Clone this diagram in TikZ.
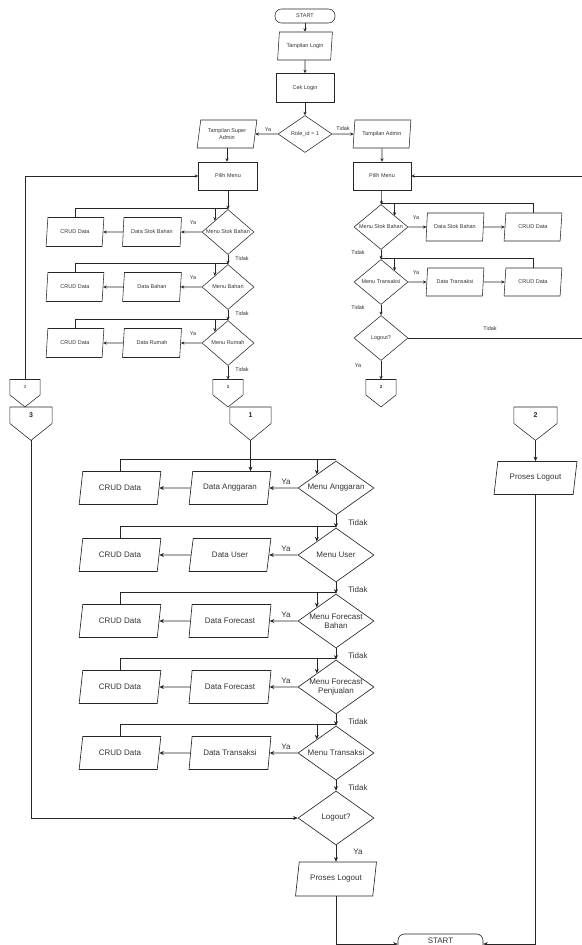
\documentclass[tikz,border=0pt]{standalone}
\usepackage{fontspec}
\setmainfont{Liberation Sans}
\usetikzlibrary{shapes.geometric,calc,arrows.meta}
\newcommand\fs{\fontsize{5.5}{6.6}\selectfont}
\newcommand\fb{\fontsize{8}{9.4}\selectfont}
\newcommand\offpage[7]{%
  \node[offbox, minimum width=#4, minimum height=#5, anchor=north] (#1) at (#2,#3) {#7};
  \draw[ln] (#1.north west) -- (#1.north east) -- (#1.south east) -- ($(#1.south)+(0,#6)$) coordinate (#1t) -- (#1.south west) -- cycle;}
\tikzset{
  ln/.style={draw=black!85, line width=0.55pt},
  arr/.style={ln, -{Stealth[length=3.5pt,width=3.2pt]}},
  arrb/.style={ln, line width=0.65pt, -{Stealth[length=4.5pt,width=4pt]}},
  base/.style={draw=black!85, line width=0.55pt, inner sep=0pt, text=black!80},
  para/.style 2 args={base, trapezium, trapezium left angle=76, trapezium right angle=104, trapezium stretches=true, minimum width=#1, minimum height=#2, font=\fs, align=center},
  parab/.style 2 args={base, line width=0.65pt, trapezium, trapezium left angle=70, trapezium right angle=110, trapezium stretches=true, minimum width=#1, minimum height=#2, font=\fb},
  proc/.style 2 args={base, rectangle, minimum width=#1, minimum height=#2, font=\fs},
  diab/.style={base, line width=0.65pt, diamond, minimum width=76, minimum height=54},
  term/.style 2 args={base, rectangle, rounded corners=6.5pt, minimum width=#1, minimum height=#2},
  offbox/.style={inner sep=0pt, text=black!85},
  lbl/.style={inner sep=0pt, font=\fs, text=black!80},
  lblb/.style={inner sep=0pt, font=\fb, text=black!80},
}
\begin{document}
\begin{tikzpicture}[x=1pt, y=-1pt]
\useasboundingbox (0,0) rectangle (581,945);
% ---------- top ----------
\node[term={60}{14}, font=\fs] (s1) at (305,16) {START};
\node[para={55}{28}] (tl) at (305,46) {Tampilan Login};
\node[proc={58}{29}] (cl) at (305,88) {Cek Login};
\node[base, diamond, minimum width=54, minimum height=37] (rl) at (305,134) {};
\node[lbl] (rlt) at (rl.center) {Role\_id = 1};
\node[para={60}{28}] (tsa) at (227,134) {Tampilan Super\\Admin};
\node[para={58}{28}] (ta) at (382,134) {Tampilan Admin};
\node[proc={59}{28}] (pmL) at (228,176) {Pilih Menu};
\node[proc={58}{28}] (pmR) at (382,176) {Pilih Menu};
\draw[arr] (s1) -- (tl);
\draw[arr] (tl) -- (cl);
\draw[arr] (cl) -- (rl);
\draw[arr] (rl) -- (tsa);
\draw[arr] (rl) -- (ta);
\node[lbl] (ya0) at (268,130) {Ya};
\node[lbl] (ti0) at (343,129) {Tidak};
\draw[arr] (tsa.south) -- (tsa.south |- pmL.north);
\draw[arr] (ta) -- (pmR);
% ---------- left column ----------
\foreach \nm/\yy/\dtxt/\dat in {a/232/{Menu Stok Bahan}/{Data Stok Bahan}, b/287/{Menu Bahan}/{Data Bahan}, c/343/{Menu Rumah}/{Data Rumah}}{
  \node[base, diamond, minimum width=52, minimum height=45] (dL\nm) at (228,\yy) {};
  \node[lbl] (dLt\nm) at (dL\nm.center) {\dtxt};
  \node[para={59}{29}] (tL\nm) at (152,\yy) {\dat};
  \node[para={58}{29}] (cL\nm) at (75,\yy) {CRUD Data};
  \draw[arr] (dL\nm) -- (tL\nm);
  \draw[arr] (tL\nm) -- (cL\nm);
  \draw[arr] (cL\nm.north) |- ($(dL\nm.north)+(0,-1)$) -| (dL\nm.north west);
  \node[lbl] (yL\nm) at (193,\yy-9) {Ya};
  \node[lbl] (nL\nm) at (242,\yy+27) {Tidak};
}
\draw[arr] (pmL) -- (dLa);
\draw[arr] (dLa) -- (dLb);
\draw[arr] (dLb) -- (dLc);
% ---------- right column ----------
\foreach \nm/\yy/\dtxt/\dat in {a/227/{Menu Stok Bahan}/{Data Stok Bahan}, b/282/{Menu Transaksi}/{Data Transaksi}}{
  \node[base, diamond, minimum width=54, minimum height=45] (dR\nm) at (381,\yy) {};
  \node[lbl] (dRt\nm) at (dR\nm.center) {\dtxt};
  \node[para={58}{28}] (tR\nm) at (455,\yy) {\dat};
  \node[para={58}{28}] (cR\nm) at (533,\yy) {CRUD Data};
  \draw[arr] (dR\nm) -- (tR\nm);
  \draw[arr] (tR\nm) -- (cR\nm);
  \draw[arr] (cR\nm.north) |- ($(dR\nm.north)+(0,-1)$) -| (dR\nm.north east);
  \node[lbl] (yR\nm) at (416,\yy-9) {Ya};
  \node[lbl] (nR\nm) at (358,\yy+26) {Tidak};
}
\node[base, diamond, minimum width=54, minimum height=45] (dRc) at (381,338) {};
\node[lbl] (dRtc) at (dRc.center) {Logout?};
\draw[arr] (pmR) -- (dRa);
\draw[arr] (dRa) -- (dRb);
\draw[arr] (dRb) -- (dRc);
\coordinate (r1) at (590,176);
\coordinate (r2) at (590,338);
\draw[arr] (r1) -- (pmR);
\draw[ln] (dRc) -- (r2);
\node[lbl] (nRc) at (490,329) {Tidak};
\node[lbl] (yRc) at (358,366) {Ya};
% ---------- small connectors ----------
\offpage{k3}{25}{379.5}{30}{15}{12}{\fontsize{4.5}{5}\selectfont 3}
\offpage{k1}{228}{379.5}{30}{15}{12}{\fontsize{4.5}{5}\selectfont\bfseries 1}
\offpage{k2}{381}{379.5}{30}{15}{12}{\fontsize{4.5}{5}\selectfont\bfseries 2}
\draw[arr] (k3.north) |- (pmL);
\draw[arr] (dLc) -- (k1);
\draw[arr] (dRc) -- (k2);
% ---------- big connectors ----------
\offpage{g3}{31}{407}{42}{16}{17}{\fontsize{7}{8}\selectfont\bfseries 3}
\offpage{g1}{250.5}{407}{41}{16}{17}{\fontsize{7}{8}\selectfont\bfseries 1}
\offpage{g2}{535.5}{407}{43}{16}{17}{\fontsize{7}{8}\selectfont\bfseries 2}
% ---------- bottom column ----------
\foreach \nm/\yy/\dtxt/\dat in {a/488/{Menu Anggaran}/{Data Anggaran}, b/555/{Menu User}/{Data User}, c/621/{Menu Forecast\\Bahan}/{Data Forecast}, d/687/{Menu Forecast\\Penjualan}/{Data Forecast}, e/753/{Menu Transaksi}/{Data Transaksi}}{
  \node[diab] (dB\nm) at (336,\yy) {};
  \node[lblb, align=center] (dBt\nm) at (dB\nm.center) {\dtxt};
  \node[parab={82}{33}] (tB\nm) at (230,\yy) {\dat};
  \node[parab={82}{33}] (cB\nm) at (120,\yy) {CRUD Data};
  \draw[arrb] (dB\nm) -- (tB\nm);
  \draw[arrb] (tB\nm) -- (cB\nm);
  \draw[arrb] (cB\nm.north) |- ($(dB\nm.north)+(0,-1)$) -| (dB\nm.north west);
  \node[lblb] (yB\nm) at (286,\yy-6) {Ya};
  \node[lblb] (nB\nm) at (358,\yy+35) {Tidak};
}
\node[diab] (dBf) at (336,818) {};
\node[lblb] (dBtf) at (dBf.center) {Logout?};
\node[parab={81}{34}] (pl1) at (336,879) {Proses Logout};
\node[parab={83}{33}] (pl2) at (535.5,478) {Proses Logout};
\node[term={85}{20}, line width=0.65pt] (s2) at (440.5,944) {};
\node[lblb] (s2t) at (440.5,940.5) {START};
\draw[arrb] (dBa) -- (dBb);
\draw[arrb] (dBb) -- (dBc);
\draw[arrb] (dBc) -- (dBd);
\draw[arrb] (dBd) -- (dBe);
\draw[arrb] (dBe) -- (dBf);
\draw[arrb] (dBf) -- (pl1);
\node[lblb] (yBf) at (358,852) {Ya};
\draw[arrb] (g1t) -- (g1t |- tBa.north);
\draw[arrb] (g3t) |- (dBf);
\draw[arrb] (g2t) -- (pl2);
\draw[arrb] (pl2.south) |- (s2.east);
\draw[arrb] (pl1.south) |- (s2.west);
\end{tikzpicture}
\end{document}
